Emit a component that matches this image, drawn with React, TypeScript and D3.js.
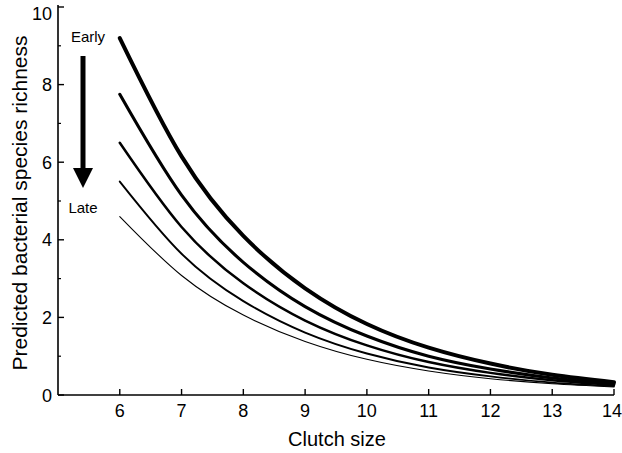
import React from "react";
import * as d3 from "d3";

const clutchSizes = [6, 7, 8, 9, 10, 11, 12, 13, 14];
const seriesEarliest = [9.2, 6.15, 4.1, 2.75, 1.83, 1.22, 0.81, 0.52, 0.33];
const seriesSecond = [7.75, 5.15, 3.42, 2.28, 1.52, 1.0, 0.67, 0.44, 0.29];
const seriesThird = [6.5, 4.33, 2.88, 1.92, 1.28, 0.85, 0.57, 0.38, 0.26];
const seriesFourth = [5.5, 3.64, 2.42, 1.61, 1.07, 0.71, 0.48, 0.32, 0.23];
const seriesLatest = [4.6, 3.08, 2.06, 1.38, 0.92, 0.62, 0.42, 0.29, 0.21];
const allSeries = [seriesEarliest, seriesSecond, seriesThird, seriesFourth, seriesLatest];
const strokeWidths = [4, 3.1, 2.5, 1.9, 1.1];

const xTicks = [6, 7, 8, 9, 10, 11, 12, 13, 14];
const yMajorTicks = [0, 2, 4, 6, 8, 10];
const yMinorTicks = [1, 3, 5, 7, 9];

const W = 622;
const H = 453;
const left = 58;
const right = 614;
const top = 7;
const bottom = 395;

export default function App() {
  const x = d3.scaleLinear().domain([5, 14]).range([left, right]);
  const y = d3.scaleLinear().domain([0, 10]).range([bottom, top]);
  const line = d3
    .line<number>()
    .x((_, i) => x(clutchSizes[i]))
    .y((d) => y(d))
    .curve(d3.curveNatural);
  const font = "Arial, 'Liberation Sans', sans-serif";

  return (
    <svg
      width={W}
      height={H}
      style={{ position: "absolute", left: 0, top: 0, background: "#fff", display: "block" }}
      fontFamily={font}
    >
      <rect width={W} height={H} fill="#fff" />
      {allSeries.map((s, i) => (
        <path
          key={i}
          d={line(s) || ""}
          fill="none"
          stroke="#000"
          strokeWidth={strokeWidths[i]}
          strokeLinecap="round"
        />
      ))}
      {/* axes */}
      <line x1={left} x2={left} y1={top - 2} y2={bottom} stroke="#000" strokeWidth={1.6} />
      <line x1={left} x2={right} y1={bottom} y2={bottom} stroke="#000" strokeWidth={1.6} />
      {xTicks.map((t) => (
        <g key={"x" + t}>
          <line x1={x(t)} x2={x(t)} y1={bottom} y2={bottom - 6} stroke="#000" strokeWidth={1.4} />
          <text x={t === 14 ? x(t) - 2 : x(t)} y={417} textAnchor="middle" fontSize={18} fill="#000">
            {t}
          </text>
        </g>
      ))}
      {yMajorTicks.map((t) => (
        <g key={"y" + t}>
          <line x1={left} x2={left + 6} y1={y(t)} y2={y(t)} stroke="#000" strokeWidth={1.4} />
          <text
            x={52}
            y={t === 10 ? 20 : y(t) + 6.5}
            textAnchor="end"
            fontSize={18}
            fill="#000"
          >
            {t}
          </text>
        </g>
      ))}
      {yMinorTicks.map((t) => (
        <line key={"m" + t} x1={left} x2={left + 3} y1={y(t)} y2={y(t)} stroke="#000" strokeWidth={1.2} />
      ))}
      <text x={(left + right) / 2 + 1} y={446} textAnchor="middle" fontSize={20} fill="#000">
        Clutch size
      </text>
      <text
        transform={`translate(27, 203) rotate(-90)`}
        textAnchor="middle"
        fontSize={21}
        fill="#000"
      >
        Predicted bacterial species richness
      </text>
      {/* Early -> Late arrow */}
      <text x={88} y={42} textAnchor="middle" fontSize={15} fill="#000">
        Early
      </text>
      <text x={83} y={213} textAnchor="middle" fontSize={15} fill="#000">
        Late
      </text>
      <line x1={83} x2={83} y1={56} y2={170} stroke="#000" strokeWidth={5} />
      <path d="M73,168 L93,168 L83,188 Z" fill="#000" />
    </svg>
  );
}
